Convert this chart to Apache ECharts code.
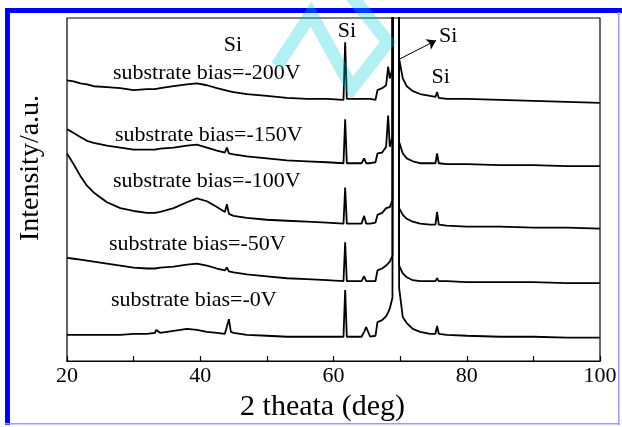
<!DOCTYPE html>
<html>
<head>
<meta charset="utf-8">
<title>XRD substrate bias</title>
<script src="https://cdn.jsdelivr.net/npm/echarts@6/dist/echarts.min.js"></script>
<style>
  html, body { margin: 0; padding: 0; background: #fff; }
  #chart { width: 622px; height: 427px; }
</style>
</head>
<body>
<div id="chart"></div>
<script>
// 2θ sampling points (deg)
const twoTheta = [20, 21, 22, 23, 24, 26, 28, 30, 32, 33.2, 33.4, 34, 36, 38, 38.3, 39.5, 41, 42.5, 43.7,
  44.0, 44.3, 44.6, 45, 47, 50, 53, 56, 59, 61.5, 61.75, 62.0, 63, 64.2, 64.6, 64.9, 65.5, 66.3, 66.6,
  67.3, 67.9, 68.2, 68.45, 68.85, 69.1, 69.6, 69.85, 70.4, 71.0, 71.9, 73, 74.5, 75.3, 75.55, 75.8,
  77, 80, 85, 90, 95, 100];

// intensity (a.u., curves already stacked)
const bias200 = [288, 287, 285, 284, 282, 281, 280, 278, 279, 279, 279, 280, 282, 284, 284, 285, 283, 280, 278,
  278, 277, 277, 276, 274, 272, 270, 269, 269, 268, 327, 269, 269, 269, 269, 269, 269, 268, 278,
  280, 283, 302, 290, 300, 2000, 2000, 310, 290, 282, 277, 274, 272, 271, 276, 270,
  269, 269, 268, 267, 266, 265];
const bias150 = [238, 234, 230, 226, 224, 221, 219, 217, 217, 217, 217, 218, 219, 221, 221, 222, 219, 216, 214,
  219, 213, 212, 212, 210, 208, 206, 205, 204, 203, 248, 203, 203, 203, 208, 203, 203, 204, 213,
  214, 220, 252, 220, 230, 2000, 2000, 225, 213, 208, 205, 203, 203, 203, 213, 203,
  202, 202, 201, 201, 200, 200];
const bias100 = [213, 202, 190, 180, 173, 163, 157, 154, 152, 152, 152, 153, 157, 163, 164, 167, 164, 158, 153,
  161, 151, 150, 149, 147, 145, 144, 143, 142, 141, 178, 141, 141, 141, 149, 141, 141, 142, 150,
  152, 157, 159, 158, 165, 2000, 2000, 157, 150, 146, 143, 141, 140, 140, 153, 140,
  139, 138, 138, 137, 137, 136];
const bias50 = [106, 105, 104, 103, 102, 100, 98, 96, 95, 95, 95, 96, 97, 99, 99, 100, 98, 95, 93,
  96, 92, 91, 91, 89, 87, 85, 84, 83, 82, 122, 82, 82, 82, 87, 82, 82, 82, 93,
  95, 98, 100, 102, 108, 2000, 2000, 98, 90, 86, 83, 82, 82, 82, 85, 82,
  82, 81, 81, 81, 80, 80];
const bias0 = [27, 27, 27, 27, 27, 27, 27, 28, 28, 29, 32, 29, 31, 33, 35, 32, 30, 29, 28,
  29, 43, 30, 29, 27, 26, 25, 25, 25, 25, 73, 25, 25, 25, 30, 35, 25, 26, 40,
  42, 46, 50, 54, 65, 2000, 2000, 75, 45, 39, 33, 30, 28, 28, 36, 28,
  27, 26, 25, 25, 24, 24];

const curves = [bias200, bias150, bias100, bias50, bias0];
const curveNames = ['substrate bias=-200V', 'substrate bias=-150V', 'substrate bias=-100V',
  'substrate bias=-50V', 'substrate bias=-0V'];
// where each curve label starts (2θ, intensity)
const curveLabelAt = [[26.9, 295], [27.2, 232], [26.9, 185], [26.3, 120], [26.6, 62]];
// Si peak annotations (2θ, intensity)
const siLabelAt = [[44.9, 324], [62.0, 338], [76.1, 291]];
const siArrow = [[69.95, 310], [75.4, 329]];

const serif = '"Liberation Serif", "Times New Roman", serif';

const chart = echarts.init(document.getElementById('chart'));

const series = curves.map((vals, i) => ({
  name: curveNames[i],
  type: 'line',
  data: twoTheta.map((x, j) => [x, vals[j]]),
  showSymbol: false,
  symbol: 'none',
  lineStyle: { color: '#000', width: 1.8 },
  animation: false,
  markLine: i === 0 ? {
    silent: true,
    symbol: ['none', 'arrow'],
    symbolSize: 9,
    lineStyle: { color: '#000', width: 1, type: 'solid' },
    label: { show: false },
    data: [[{ coord: siArrow[0] }, { coord: siArrow[1] }]]
  } : undefined
}));

const option = {
  animation: false,
  backgroundColor: '#fff',
  grid: {
    left: 67, right: 22, top: 18, bottom: 57,
    show: true, borderColor: '#000', borderWidth: 1.2
  },
  xAxis: {
    type: 'value',
    min: 20, max: 100, interval: 10,
    name: '2 theata (deg)',
    nameLocation: 'middle',
    nameGap: 22,
    nameTextStyle: { fontFamily: serif, fontSize: 30, color: '#000', padding: [0, 22, 0, 0] },
    axisLine: { show: true, lineStyle: { color: '#000', width: 1.2 } },
    axisTick: { show: true, inside: true, length: 5, lineStyle: { color: '#000', width: 1.2 } },
    axisLabel: {
      fontFamily: serif, fontSize: 22, color: '#000', margin: 4,
      formatter: v => (v % 20 === 0 ? String(v) : '')
    },
    splitLine: { show: false }
  },
  yAxis: {
    type: 'value',
    min: 0, max: 352,
    axisLine: { show: false },
    axisTick: { show: false },
    axisLabel: { show: false },
    splitLine: { show: false }
  },
  series: series
};

chart.setOption(option);

const toPx = p => chart.convertToPixel({ gridIndex: 0 }, p);
const textStyle = (text, size, align) => ({
  text: text, fontFamily: serif, fontSize: size, fill: '#000',
  textAlign: align, align: align, textVerticalAlign: 'middle', verticalAlign: 'middle'
});

const graphics = [];
curveNames.forEach((name, i) => {
  const p = toPx(curveLabelAt[i]);
  graphics.push({ type: 'text', x: p[0], y: p[1], z: 50, style: textStyle(name, 22, 'left') });
});
siLabelAt.forEach(c => {
  const p = toPx(c);
  graphics.push({ type: 'text', x: p[0], y: p[1], z: 50, style: textStyle('Si', 22, 'center') });
});
const arrowEnd = toPx(siArrow[1]);
graphics.push({ type: 'text', x: arrowEnd[0] + 3, y: arrowEnd[1] - 4, z: 50, style: textStyle('Si', 22, 'left') });

// y axis title
graphics.push({
  type: 'text', x: 31, y: 168, rotation: Math.PI / 2, z: 50,
  style: textStyle('Intensity/a.u.', 28, 'center')
});

// page frame
graphics.push({ type: 'rect', shape: { x: 5, y: 8, width: 617, height: 5 }, style: { fill: '#0000ff' }, z: 60 });
graphics.push({ type: 'rect', shape: { x: 5, y: 8, width: 5, height: 417 }, style: { fill: '#0000ff' }, z: 60 });
graphics.push({ type: 'rect', shape: { x: 618, y: 12, width: 1.5, height: 413 }, style: { fill: '#9a9aff' }, z: 60 });
graphics.push({ type: 'rect', shape: { x: 5, y: 423, width: 615, height: 1.5 }, style: { fill: '#9a9aff' }, z: 60 });

// watermark stroke
graphics.push({
  type: 'polyline', z: 70,
  shape: { points: [[277, 66], [311, 14], [352, 88], [388, 42], [350, -6]] },
  style: { stroke: 'rgba(0, 205, 215, 0.3)', lineWidth: 13, fill: null, lineJoin: 'miter' }
});

chart.setOption({ graphic: graphics });
</script>
</body>
</html>
